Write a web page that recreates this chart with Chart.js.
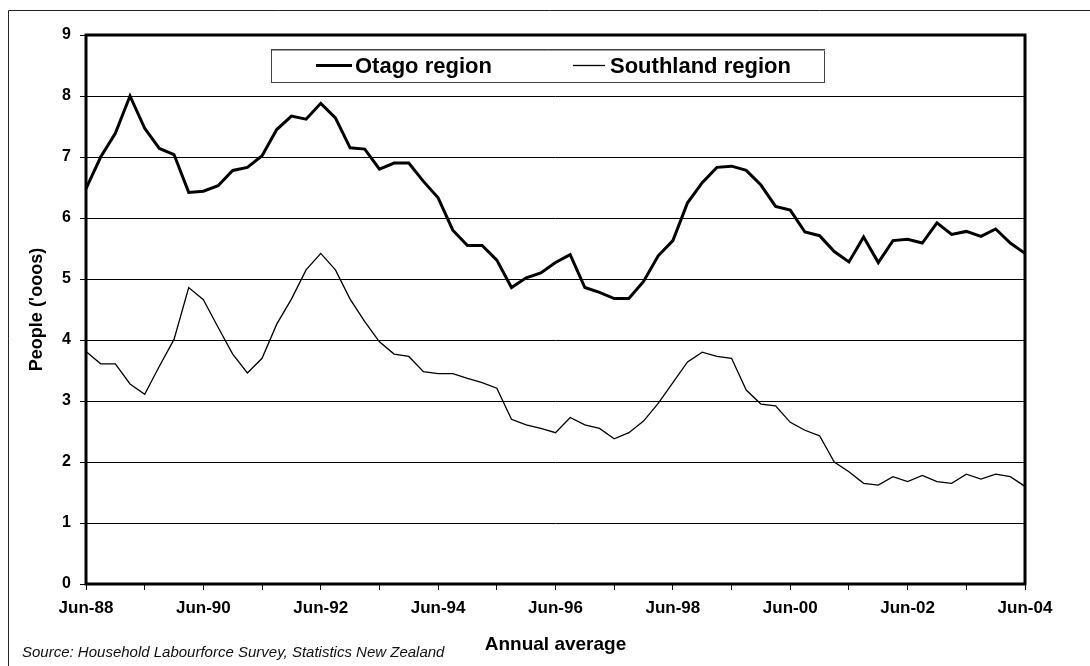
<!DOCTYPE html>
<html>
<head>
<meta charset="utf-8">
<title>Otago and Southland region - annual average</title>
<script src="https://cdn.jsdelivr.net/npm/chart.js@4.4.1/dist/chart.umd.min.js"></script>
<style>
  html, body { margin: 0; padding: 0; background: #fff; }
  #wrap { width: 1090px; height: 666px; }
</style>
</head>
<body>
<div id="wrap"><canvas id="chart" width="1090" height="666"></canvas></div>
<script>
// quarterly, annual average
const quarters = [
    'Jun-88', 'Sep-88', 'Dec-88', 'Mar-89',
    'Jun-89', 'Sep-89', 'Dec-89', 'Mar-90',
    'Jun-90', 'Sep-90', 'Dec-90', 'Mar-91',
    'Jun-91', 'Sep-91', 'Dec-91', 'Mar-92',
    'Jun-92', 'Sep-92', 'Dec-92', 'Mar-93',
    'Jun-93', 'Sep-93', 'Dec-93', 'Mar-94',
    'Jun-94', 'Sep-94', 'Dec-94', 'Mar-95',
    'Jun-95', 'Sep-95', 'Dec-95', 'Mar-96',
    'Jun-96', 'Sep-96', 'Dec-96', 'Mar-97',
    'Jun-97', 'Sep-97', 'Dec-97', 'Mar-98',
    'Jun-98', 'Sep-98', 'Dec-98', 'Mar-99',
    'Jun-99', 'Sep-99', 'Dec-99', 'Mar-00',
    'Jun-00', 'Sep-00', 'Dec-00', 'Mar-01',
    'Jun-01', 'Sep-01', 'Dec-01', 'Mar-02',
    'Jun-02', 'Sep-02', 'Dec-02', 'Mar-03',
    'Jun-03', 'Sep-03', 'Dec-03', 'Mar-04',
    'Jun-04'
];

const xTickLabels = ['Jun-88', 'Jun-90', 'Jun-92', 'Jun-94', 'Jun-96', 'Jun-98', 'Jun-00', 'Jun-02', 'Jun-04'];

const otago = [
    6.48, 7.00, 7.39, 8.00, 7.47, 7.14, 7.04, 6.42, 6.44, 6.53,
    6.78, 6.83, 7.02, 7.45, 7.67, 7.62, 7.88, 7.64, 7.15, 7.13,
    6.80, 6.90, 6.90, 6.60, 6.33, 5.80, 5.55, 5.55, 5.31, 4.86,
    5.02, 5.10, 5.27, 5.40, 4.86, 4.78, 4.68, 4.68, 4.96, 5.38,
    5.63, 6.25, 6.58, 6.83, 6.85, 6.78, 6.54, 6.19, 6.13, 5.77,
    5.71, 5.45, 5.28, 5.69, 5.27, 5.63, 5.65, 5.59, 5.92, 5.73,
    5.78, 5.70, 5.82, 5.59, 5.42
];

const southland = [
    3.81, 3.61, 3.61, 3.28, 3.11, 3.57, 4.01, 4.86, 4.66, 4.21,
    3.77, 3.46, 3.70, 4.26, 4.67, 5.15, 5.42, 5.15, 4.67, 4.30,
    3.97, 3.77, 3.73, 3.48, 3.45, 3.45, 3.37, 3.30, 3.21, 2.70,
    2.61, 2.55, 2.48, 2.73, 2.61, 2.55, 2.38, 2.48, 2.67, 2.96,
    3.30, 3.64, 3.80, 3.73, 3.70, 3.18, 2.95, 2.92, 2.65, 2.52,
    2.43, 2.00, 1.84, 1.65, 1.62, 1.76, 1.68, 1.78, 1.68, 1.65,
    1.80, 1.72, 1.80, 1.76, 1.60
];

const FONT = "'Liberation Sans', Arial, Helvetica, sans-serif";
const sourceNote = 'Source: Household Labourforce Survey, Statistics New Zealand';

// page frame, plot border, boxed legend and source line
const framePlugin = {
    id: 'framePlugin',
    beforeDraw(chart) {
        const ctx = chart.ctx;
        ctx.save();
        ctx.fillStyle = '#fff';
        ctx.fillRect(0, 0, chart.width, chart.height);
        ctx.strokeStyle = '#222';
        ctx.lineWidth = 1;
        ctx.beginPath();
        ctx.moveTo(8.5, chart.height);
        ctx.lineTo(8.5, 10.5);
        ctx.lineTo(chart.width, 10.5);
        ctx.stroke();
        ctx.restore();
    },
    afterDatasetsDraw(chart) {
        const { ctx, chartArea: a } = chart;
        ctx.save();
        ctx.strokeStyle = '#000';
        ctx.lineWidth = 3;
        ctx.strokeRect(a.left, a.top, a.right - a.left, a.bottom - a.top);

        // legend box
        ctx.fillStyle = '#fff';
        ctx.fillRect(271, 49, 554, 34);
        ctx.lineWidth = 1;
        ctx.strokeStyle = '#444';
        ctx.strokeRect(271.5, 49.5, 553, 33);
        ctx.strokeStyle = '#999';
        ctx.beginPath();
        ctx.moveTo(272, 50.5);
        ctx.lineTo(825, 50.5);
        ctx.stroke();

        const items = [
            { x1: 316, x2: 352, tx: 355 },
            { x1: 573, x2: 605, tx: 610 }
        ];
        ctx.font = 'bold 22px ' + FONT;
        ctx.textBaseline = 'middle';
        ctx.textAlign = 'left';
        chart.data.datasets.forEach((ds, i) => {
            const it = items[i];
            ctx.strokeStyle = ds.borderColor;
            ctx.lineWidth = ds.borderWidth;
            ctx.beginPath();
            ctx.moveTo(it.x1, 65.5);
            ctx.lineTo(it.x2, 65.5);
            ctx.stroke();
            ctx.fillStyle = '#000';
            ctx.fillText(ds.label, it.tx, 67);
        });

        // source note
        ctx.font = 'italic 15px ' + FONT;
        ctx.fillStyle = '#111';
        ctx.fillText(sourceNote, 22, 653);
        ctx.restore();
    }
};

const chart = new Chart(document.getElementById('chart'), {
    type: 'line',
    data: {
        labels: quarters,
        datasets: [
            {
                label: 'Otago region',
                data: otago,
                borderColor: '#000',
                borderWidth: 3,
                pointRadius: 0,
                tension: 0,
                fill: false
            },
            {
                label: 'Southland region',
                data: southland,
                borderColor: '#000',
                borderWidth: 1.3,
                pointRadius: 0,
                tension: 0,
                fill: false
            }
        ]
    },
    options: {
        responsive: false,
        animation: false,
        devicePixelRatio: 1,
        layout: {
            padding: { top: 35, right: 65, bottom: 0, left: 0 }
        },
        plugins: {
            legend: { display: false },
            tooltip: { enabled: false }
        },
        scales: {
            x: {
                offset: false,
                afterFit(scale) { scale.height = 82; },
                grid: {
                    drawOnChartArea: false,
                    drawTicks: true,
                    tickLength: 6,
                    color: '#000',
                    lineWidth: 1
                },
                border: { display: false },
                ticks: {
                    autoSkip: false,
                    maxRotation: 0,
                    minRotation: 0,
                    padding: 8,
                    color: '#000',
                    font: { family: FONT, size: 17, weight: 'bold' },
                    callback(value) {
                        const lbl = quarters[value];
                        if (xTickLabels.includes(lbl)) return lbl;
                        if (lbl.startsWith('Jun')) return '';
                        return null;
                    }
                },
                title: {
                    display: true,
                    text: 'Annual average',
                    color: '#000',
                    font: { family: FONT, size: 19, weight: 'bold' },
                    padding: { top: 0, bottom: 10 }
                }
            },
            y: {
                min: 0,
                max: 9,
                afterFit(scale) { scale.width = 86; },
                grid: {
                    color: '#000',
                    lineWidth: 1,
                    tickLength: 6
                },
                border: { display: false },
                ticks: {
                    stepSize: 1,
                    padding: 9,
                    color: '#000',
                    font: { family: FONT, size: 16, weight: 'bold' }
                },
                title: {
                    display: true,
                    text: "People ('ooos)",
                    color: '#000',
                    font: { family: FONT, size: 18, weight: 'bold' },
                    padding: { top: 26, bottom: 0 }
                }
            }
        }
    },
    plugins: [framePlugin]
});
</script>
</body>
</html>
